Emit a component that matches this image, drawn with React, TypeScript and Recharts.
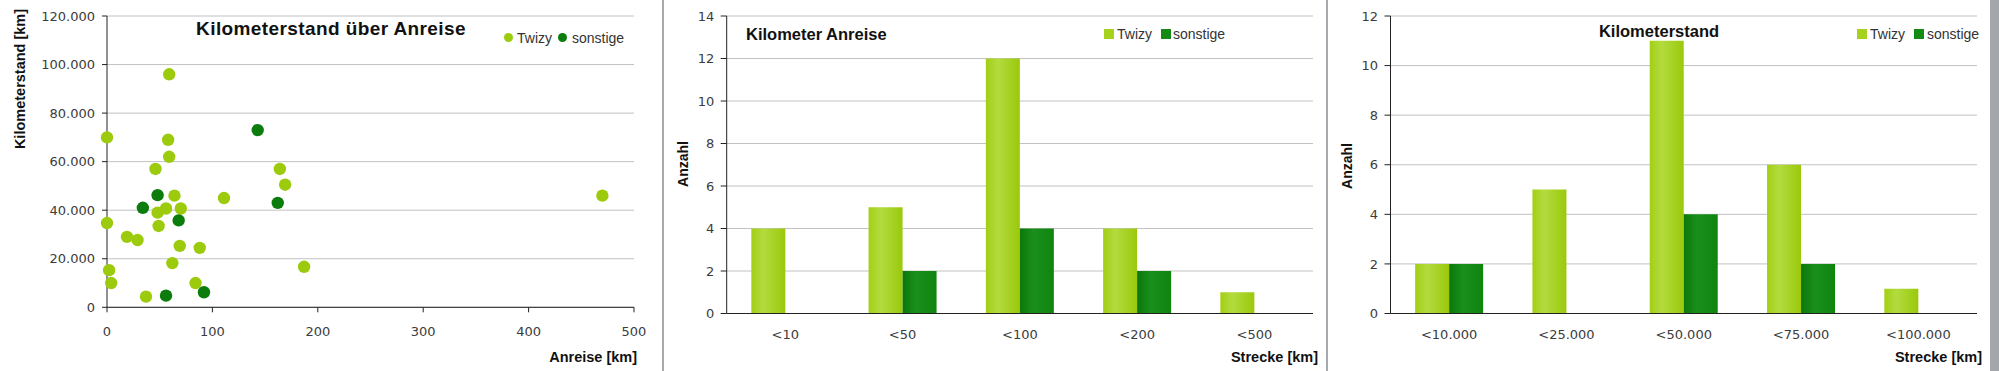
import React from "react";
import { ScatterChart, Scatter, BarChart, Bar, XAxis, YAxis, CartesianGrid } from "recharts";

// Kilometerstand über Anreise (Streudiagramm)
const twizyAnreise = [59, 0, 58, 59, 46, 164, 169, 64, 111, 56, 70, 48, 0, 49, 19, 29, 69, 88, 62, 187, 2, 4, 84, 37, 470];
const twizyStand = [96000, 70000, 69000, 62000, 57000, 57000, 50500, 46000, 45000, 40700, 40700, 39000, 34700, 33500, 29000, 27700, 25300, 24500, 18200, 16700, 15300, 10000, 10000, 4400, 46000];
const otherAnreise = [143, 48, 34, 162, 68, 56, 92];
const otherStand = [73000, 46200, 41000, 43000, 35800, 4800, 6200];

// Histogramm Kilometer Anreise
const anreiseCategories = ["<10", "<50", "<100", "<200", "<500"];
const anreiseTwizy = [4, 5, 12, 4, 1];
const anreiseOther = [0, 2, 4, 2, 0];

// Histogramm Kilometerstand
const standCategories = ["<10.000", "<25.000", "<50.000", "<75.000", "<100.000"];
const standTwizy = [2, 5, 11, 6, 1];
const standOther = [2, 0, 4, 2, 0];

const scatterXTicks = [0, 100, 200, 300, 400, 500];
const scatterYTicks = [0, 20000, 40000, 60000, 80000, 100000, 120000];
const anreiseYTicks = [0, 2, 4, 6, 8, 10, 12, 14];
const standYTicks = [0, 2, 4, 6, 8, 10, 12];

const LIGHT = "#9ccb0e";
const DARK = "#0c7c0c";
const AXIS = "#222";
const GRID = "#c2c2c2";
const TICK = { fontSize: 13, fill: "#3c3c3c", fontFamily: "DejaVu Sans" };
const LABEL_FONT = "'Liberation Sans', Arial, sans-serif";

const fmt = (v: number) => String(v).replace(/\B(?=(\d{3})+(?!\d))/g, ".");

function Txt({ x, y, children, size = 14, bold = false, align = "left", rotate = false, spacing = 0 }: any) {
  let tx = "0";
  if (align === "center") tx = "-50%";
  if (align === "right") tx = "-100%";
  const transform = rotate ? "translate(-50%, -50%) rotate(-90deg)" : `translate(${tx}, -50%)`;
  return (
    <div
      style={{
        position: "absolute",
        left: x,
        top: y,
        transform,
        fontFamily: LABEL_FONT,
        fontSize: size,
        fontWeight: bold ? 700 : 400,
        lineHeight: 1,
        whiteSpace: "nowrap",
        color: bold ? "#111" : "#333",
        letterSpacing: spacing,
      }}
    >
      {children}
    </div>
  );
}

function LegendMark({ x, y, color, round }: any) {
  return (
    <div
      style={{
        position: "absolute",
        left: x,
        top: y - 5,
        width: round ? 9 : 10,
        height: round ? 9 : 10,
        borderRadius: round ? "50%" : 0,
        background: color,
      }}
    />
  );
}

function Dot(p: any) {
  if (p.cx == null || p.cy == null) return null;
  return <circle cx={p.cx} cy={p.cy} r={6.2} fill={p.fill} />;
}

function ScatterPanel() {
  const twizy = twizyAnreise.map((x, i) => ({ x, y: twizyStand[i] }));
  const other = otherAnreise.map((x, i) => ({ x, y: otherStand[i] }));
  return (
    <div style={{ position: "absolute", left: 0, top: 0 }}>
      <ScatterChart width={662} height={371} margin={{ top: 16, right: 28, bottom: 0, left: 0 }}>
        <CartesianGrid vertical={false} stroke={GRID} />
        <XAxis
          type="number"
          dataKey="x"
          domain={[0, 500]}
          ticks={scatterXTicks}
          height={63.7}
          tickSize={5}
          tickMargin={14}
          tick={TICK}
          axisLine={{ stroke: AXIS }}
          tickLine={{ stroke: AXIS }}
        />
        <YAxis
          type="number"
          dataKey="y"
          domain={[0, 120000]}
          ticks={scatterYTicks}
          width={107}
          tickSize={5}
          tickMargin={7}
          tick={TICK}
          tickFormatter={fmt}
          axisLine={{ stroke: AXIS }}
          tickLine={{ stroke: AXIS }}
        />
        <Scatter data={twizy} fill={LIGHT} shape={Dot} isAnimationActive={false} />
        <Scatter data={other} fill={DARK} shape={Dot} isAnimationActive={false} />
      </ScatterChart>
    </div>
  );
}

function HistPanel({ left, yAxisWidth, categories, twizy, other, yMax, yTicks, id }: any) {
  const data = categories.map((c: string, i: number) => ({ name: c, twizy: twizy[i], other: other[i] }));
  const edges = categories.map((_: string, i: number) => i).concat([categories.length]);
  return (
    <div style={{ position: "absolute", left, top: 0 }}>
      <BarChart
        width={662}
        height={371}
        data={data}
        margin={{ top: 16, right: 13, bottom: 0, left: 0 }}
        barCategoryGap="21%"
        barGap={0}
      >
        <defs>
          <linearGradient id={`light${id}`} x1="0" y1="0" x2="1" y2="0">
            <stop offset="0%" stopColor="#a2cf14" />
            <stop offset="35%" stopColor="#b3db3f" />
            <stop offset="100%" stopColor="#9ac90a" />
          </linearGradient>
          <linearGradient id={`dark${id}`} x1="0" y1="0" x2="1" y2="0">
            <stop offset="0%" stopColor="#0a780a" />
            <stop offset="40%" stopColor="#1a8f1c" />
            <stop offset="100%" stopColor="#0f850f" />
          </linearGradient>
        </defs>
        <CartesianGrid vertical={false} stroke={GRID} />
        <XAxis
          xAxisId="edge"
          type="number"
          domain={[0, categories.length]}
          ticks={edges}
          height={1}
          tick={false}
          tickSize={5}
          axisLine={false}
          tickLine={{ stroke: AXIS }}
        />
        <XAxis
          dataKey="name"
          height={56.5}
          interval={0}
          tickLine={false}
          tickSize={0}
          tickMargin={16}
          tick={TICK}
          axisLine={{ stroke: AXIS }}
        />
        <YAxis
          domain={[0, yMax]}
          ticks={yTicks}
          width={yAxisWidth}
          tickSize={6}
          tickMargin={6.5}
          tick={TICK}
          axisLine={{ stroke: AXIS }}
          tickLine={{ stroke: AXIS }}
        />
        <Bar dataKey="twizy" fill={`url(#light${id})`} isAnimationActive={false} />
        <Bar dataKey="other" fill={`url(#dark${id})`} isAnimationActive={false} />
      </BarChart>
    </div>
  );
}

export default function App() {
  return (
    <div style={{ position: "absolute", left: 0, top: 0, width: 1999, height: 371, background: "#fff", overflow: "hidden" }}>
      <ScatterPanel />
      <HistPanel
        left={664}
        yAxisWidth={62.7}
        categories={anreiseCategories}
        twizy={anreiseTwizy}
        other={anreiseOther}
        yMax={14}
        yTicks={anreiseYTicks}
        id="a"
      />
      <HistPanel
        left={1328}
        yAxisWidth={62.5}
        categories={standCategories}
        twizy={standTwizy}
        other={standOther}
        yMax={12}
        yTicks={standYTicks}
        id="b"
      />

      {/* panel separators */}
      <div style={{ position: "absolute", left: 662, top: 0, width: 2, height: 371, background: "#a6a9ad" }} />
      <div style={{ position: "absolute", left: 1326, top: 0, width: 2, height: 371, background: "#a6a9ad" }} />
      <div style={{ position: "absolute", left: 1990, top: 0, width: 9, height: 371, background: "#a3a6aa" }} />

      {/* panel 1 texts */}
      <Txt x={331} y={28} size={19} bold align="center" spacing={0.4}>Kilometerstand über Anreise</Txt>
      <Txt x={20} y={78.5} size={14.5} bold rotate>Kilometerstand [km]</Txt>
      <Txt x={637} y={357} size={14.5} bold align="right">Anreise [km]</Txt>
      <LegendMark x={503.5} y={37.7} color={LIGHT} round />
      <Txt x={517} y={38} size={14}>Twizy</Txt>
      <LegendMark x={557.5} y={37.7} color={DARK} round />
      <Txt x={572} y={38} size={14}>sonstige</Txt>

      {/* panel 2 texts */}
      <Txt x={746} y={34} size={16.5} bold>Kilometer Anreise</Txt>
      <Txt x={683} y={164} size={14} bold rotate>Anzahl</Txt>
      <Txt x={1318} y={357} size={14.5} bold align="right">Strecke [km]</Txt>
      <LegendMark x={1104} y={34} color="#a5d21e" />
      <Txt x={1117} y={34} size={14}>Twizy</Txt>
      <LegendMark x={1160.5} y={34} color="#138a13" />
      <Txt x={1173} y={34} size={14}>sonstige</Txt>

      {/* panel 3 texts */}
      <Txt x={1659} y={31} size={16.5} bold align="center">Kilometerstand</Txt>
      <Txt x={1347} y={166} size={14} bold rotate>Anzahl</Txt>
      <Txt x={1982} y={357} size={14.5} bold align="right">Strecke [km]</Txt>
      <LegendMark x={1857} y={34} color="#a5d21e" />
      <Txt x={1870} y={34} size={14}>Twizy</Txt>
      <LegendMark x={1913.5} y={34} color="#138a13" />
      <Txt x={1927} y={34} size={14}>sonstige</Txt>
    </div>
  );
}
